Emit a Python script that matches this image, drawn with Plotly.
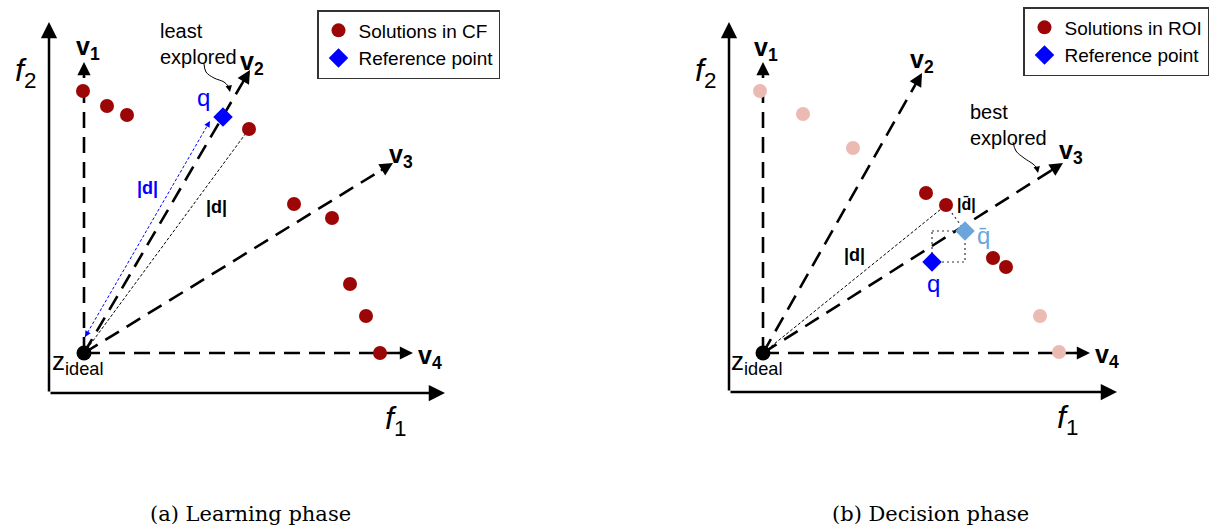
import math
import plotly.graph_objects as go

# ---------------- Data (objective values measured relative to z_ideal) ----------------
# Panel (a): Learning phase
cf_f1 = [-1, 23, 43, 165, 210, 248, 266, 282, 296]
cf_f2 = [262, 247, 238, 224, 149, 135, 69, 37, 0]
ref_a_f1 = [139]
ref_a_f2 = [236]
vec_a_f1 = [0, 166, 309, 329]
vec_a_f2 = [291, 283, 190, 0]
vec_names = ["v<sub>1</sub>", "v<sub>2</sub>", "v<sub>3</sub>", "v<sub>4</sub>"]
vec_a_lab_f1 = [4, 168, 317, 346]
vec_a_lab_f2 = [305, 290, 197, -4]

# Panel (b): Decision phase
out_f1 = [-3, 40, 90, 277, 296]
out_f2 = [262, 239, 205, 37, 1]
roi_f1 = [163, 183, 230, 243]
roi_f2 = [160, 148, 95, 86]
ref_b_f1 = [169]
ref_b_f2 = [91]
proj_b_f1 = [202]
proj_b_f2 = [122]
vec_b_f1 = [0, 159, 300, 327]
vec_b_f2 = [291, 280, 190, 0]
vec_b_lab_f1 = [3, 159, 308, 344]
vec_b_lab_f2 = [304, 292, 201, -3]

captions = ["(a) Learning phase", "(b) Decision phase"]

DARK = "#9c0606"
PINK = "#ebbab2"
BLUE = "#0000ff"
LBLUE = "#6aa6dc"
SANS = "Liberation Sans, Arial, sans-serif"

fig = go.Figure()
ann = []


def arrow(xr, yr, x0, y0, x1, y1, color="black", width=2.5, head=2, size=1.1):
    ann.append(dict(xref=xr, yref=yr, axref=xr, ayref=yr, x=x1, y=y1, ax=x0, ay=y0,
                    text="", showarrow=True, arrowhead=head, arrowsize=size,
                    arrowwidth=width, arrowcolor=color, standoff=0, startstandoff=0))


def text(xr, yr, x, y, t, size=17, color="black", xanchor="center", yanchor="middle",
         family=SANS, align="center"):
    ann.append(dict(xref=xr, yref=yr, x=x, y=y, text=t, showarrow=False,
                    font=dict(size=size, color=color, family=family),
                    xanchor=xanchor, yanchor=yanchor, align=align))


def panel(xa, ya, xr, yr, corner, top, right, vf1, vf2, lf1, lf2):
    # main axes
    arrow(xr, yr, corner[0], corner[1], corner[0], top, width=2.5, head=2, size=1.3)
    arrow(xr, yr, corner[0], corner[1], right, corner[1], width=2.5, head=2, size=1.3)
    # reference vectors (dashed)
    for i in range(4):
        L = math.hypot(vf1[i], vf2[i])
        ux, uy = vf1[i] / L, vf2[i] / L
        fig.add_trace(go.Scatter(x=[0, vf1[i] - 14 * ux], y=[0, vf2[i] - 14 * uy],
                                 mode="lines", xaxis=xa, yaxis=ya, showlegend=False,
                                 hoverinfo="skip",
                                 line=dict(color="black", width=2.6, dash="16px,9px")))
        arrow(xr, yr, vf1[i] - 16 * ux, vf2[i] - 16 * uy, vf1[i], vf2[i], width=2.4, head=2, size=1.1)
        text(xr, yr, lf1[i], lf2[i], "<b>" + vec_names[i] + "</b>", size=25)
    # labels f1, f2, z_ideal
    text(xr, yr, corner[0] - 24, top - 50, "<i>f</i><sub>2</sub>", size=32)
    text(xr, yr, right - 50, corner[1] - 27, "<i>f</i><sub>1</sub>", size=32)
    text(xr, yr, -7, -9, "z<sub>ideal</sub>", size=26)


# ---------------- Panel (a) ----------------
panel("x", "y", "x", "y", (-35, -40), 331, 361, vec_a_f1, vec_a_f2, vec_a_lab_f1, vec_a_lab_f2)
# dotted distance lines
fig.add_trace(go.Scatter(x=[0, cf_f1[3]], y=[0, cf_f2[3]], mode="lines", xaxis="x", yaxis="y",
                         showlegend=False, hoverinfo="skip",
                         line=dict(color="black", width=1, dash="3px,2px")))
blue_f1 = [1, 126]
blue_f2 = [16, 232]
fig.add_trace(go.Scatter(x=blue_f1, y=blue_f2, mode="lines", xaxis="x", yaxis="y",
                         showlegend=False, hoverinfo="skip",
                         line=dict(color=BLUE, width=1, dash="3px,2px")))
dx, dy = blue_f1[1] - blue_f1[0], blue_f2[1] - blue_f2[0]
Lb = math.hypot(dx, dy)
arrow("x", "y", blue_f1[1] - 6 * dx / Lb, blue_f2[1] - 6 * dy / Lb, blue_f1[1], blue_f2[1],
      color=BLUE, width=1, head=2, size=1.2)
arrow("x", "y", blue_f1[0] + 6 * dx / Lb, blue_f2[0] + 6 * dy / Lb, blue_f1[0], blue_f2[0],
      color=BLUE, width=1, head=2, size=1.2)
# curved "least explored" pointer
curve_a_f1 = [120, 122, 130, 140, 145]
curve_a_f2 = [289, 281, 275, 271, 266]
fig.add_trace(go.Scatter(x=curve_a_f1, y=curve_a_f2, mode="lines", xaxis="x", yaxis="y",
                         showlegend=False, hoverinfo="skip",
                         line=dict(color="black", width=1, shape="spline")))
arrow("x", "y", 145, 266, 146, 261, width=1, head=2, size=1.3)
# points
fig.add_trace(go.Scatter(x=[0], y=[0], mode="markers", xaxis="x", yaxis="y", showlegend=False,
                         marker=dict(color="black", size=15)))
fig.add_trace(go.Scatter(x=cf_f1, y=cf_f2, mode="markers", xaxis="x", yaxis="y",
                         name="Solutions in CF", legend="legend",
                         marker=dict(color=DARK, size=14, symbol="circle")))
fig.add_trace(go.Scatter(x=ref_a_f1, y=ref_a_f2, mode="markers", xaxis="x", yaxis="y",
                         name="Reference point", legend="legend",
                         marker=dict(color=BLUE, size=15, symbol="diamond")))
text("x", "y", 74, 309, "least<br>explored", size=20, xanchor="left", align="left")
text("x", "y", 119, 256, "q", size=24, color=BLUE)
text("x", "y", 63, 165, "<b>|d|</b>", size=18, color=BLUE)
text("x", "y", 132, 146, "<b>|d|</b>", size=18)

# ---------------- Panel (b) ----------------
panel("x2", "y2", "x2", "y2", (-34, -39), 331, 354, vec_b_f1, vec_b_f2, vec_b_lab_f1, vec_b_lab_f2)
dot = dict(color="black", width=1, dash="3px,2px")
fig.add_trace(go.Scatter(x=[0, roi_f1[1]], y=[0, roi_f2[1]], mode="lines", xaxis="x2", yaxis="y2",
                         showlegend=False, hoverinfo="skip", line=dot))
fig.add_trace(go.Scatter(x=[roi_f1[1], proj_b_f1[0]], y=[roi_f2[1], proj_b_f2[0]], mode="lines",
                         xaxis="x2", yaxis="y2", showlegend=False, hoverinfo="skip",
                         line=dict(color="#333", width=1.2, dash="2px,3px")))
rect_f1 = [ref_b_f1[0], proj_b_f1[0], proj_b_f1[0], ref_b_f1[0], ref_b_f1[0]]
rect_f2 = [proj_b_f2[0], proj_b_f2[0], ref_b_f2[0], ref_b_f2[0], proj_b_f2[0]]
fig.add_trace(go.Scatter(x=rect_f1, y=rect_f2, mode="lines", xaxis="x2", yaxis="y2",
                         showlegend=False, hoverinfo="skip",
                         line=dict(color="#333", width=1.2, dash="2px,3px")))
curve_b_f1 = [250, 253, 261, 270, 274]
curve_b_f2 = [211, 202, 195, 189, 185]
fig.add_trace(go.Scatter(x=curve_b_f1, y=curve_b_f2, mode="lines", xaxis="x2", yaxis="y2",
                         showlegend=False, hoverinfo="skip",
                         line=dict(color="black", width=1, shape="spline")))
arrow("x2", "y2", 274, 185, 275, 180, width=1, head=2, size=1.3)
fig.add_trace(go.Scatter(x=[0], y=[0], mode="markers", xaxis="x2", yaxis="y2", showlegend=False,
                         marker=dict(color="black", size=15)))
fig.add_trace(go.Scatter(x=out_f1, y=out_f2, mode="markers", xaxis="x2", yaxis="y2",
                         showlegend=False, marker=dict(color=PINK, size=14)))
fig.add_trace(go.Scatter(x=roi_f1, y=roi_f2, mode="markers", xaxis="x2", yaxis="y2",
                         name="Solutions in ROI", legend="legend2",
                         marker=dict(color=DARK, size=14, symbol="circle")))
fig.add_trace(go.Scatter(x=proj_b_f1, y=proj_b_f2, mode="markers", xaxis="x2", yaxis="y2",
                         showlegend=False, marker=dict(color=LBLUE, size=15, symbol="diamond")))
fig.add_trace(go.Scatter(x=ref_b_f1, y=ref_b_f2, mode="markers", xaxis="x2", yaxis="y2",
                         name="Reference point", legend="legend2",
                         marker=dict(color=BLUE, size=15, symbol="diamond")))
text("x2", "y2", 205, 228, "best<br>explored", size=20, xanchor="left", align="left")
text("x2", "y2", 170, 70, "q", size=24, color=BLUE)
text("x2", "y2", 220, 118, "q\u0304", size=24, color=LBLUE)
text("x2", "y2", 203, 149, "<b>|d\u0304|</b>", size=16)
text("x2", "y2", 91, 98, "<b>|d|</b>", size=18)

# captions
for cx, cap in zip([250 / 1214, 930 / 1214], captions):
    ann.append(dict(xref="paper", yref="paper", x=cx, y=1 - 514 / 525, text=cap, showarrow=False,
                    xanchor="center", yanchor="middle",
                    font=dict(size=21, family="DejaVu Serif, serif", color="black")))

axis_common = dict(visible=False, showgrid=False, zeroline=False, fixedrange=True)
fig.update_layout(
    width=1214, height=525,
    margin=dict(l=0, r=0, t=0, b=0),
    paper_bgcolor="white", plot_bgcolor="white",
    xaxis=dict(domain=[0, 0.5], range=[-84, 523], **axis_common),
    yaxis=dict(domain=[0, 1], range=[-172, 353], **axis_common),
    xaxis2=dict(domain=[0.5, 1], range=[-156, 451], **axis_common),
    yaxis2=dict(domain=[0, 1], range=[-172, 353], anchor="x2", **axis_common),
    legend=dict(x=317 / 1214, y=1 - 10 / 525, xanchor="left", yanchor="top",
                bordercolor="#333", borderwidth=1.5, bgcolor="white",
                font=dict(size=19, family=SANS, color="black")),
    legend2=dict(x=1023 / 1214, y=1 - 7 / 525, xanchor="left", yanchor="top",
                 bordercolor="#333", borderwidth=1.5, bgcolor="white",
                 font=dict(size=19, family=SANS, color="black")),
    annotations=ann,
    showlegend=True,
)

fig.write_html("out.html", config={"displayModeBar": False},
               post_script="document.body.style.margin='0';document.body.style.overflow='hidden';")
